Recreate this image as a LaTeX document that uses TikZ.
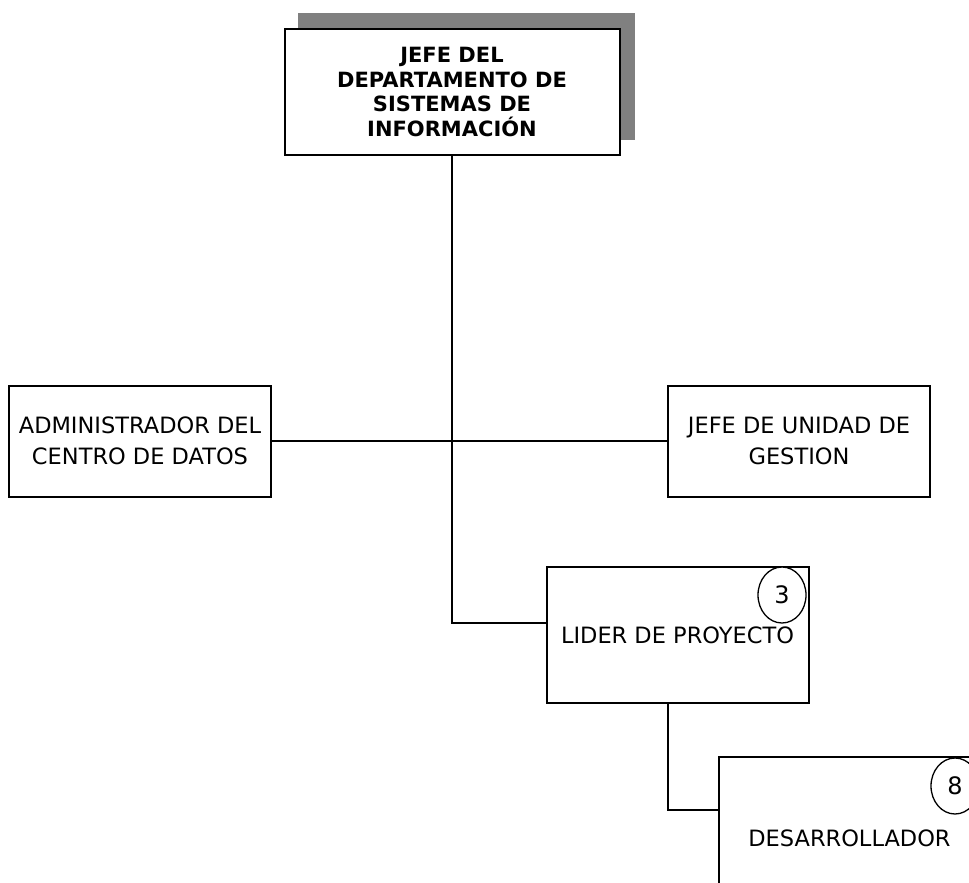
\documentclass[tikz,border=0pt]{standalone}
\usepackage{fontspec}
\setmainfont{DejaVu Sans}
\usetikzlibrary{shapes.geometric}
\definecolor{shadowgray}{RGB}{128,128,128}
\tikzset{
  orgbox/.style={draw=black, line width=2pt, fill=white, minimum width=262pt,
    inner sep=0pt, align=center, font=\fontsize{22.5}{30.5}\selectfont},
  headbox/.style={orgbox, minimum width=335pt, minimum height=126pt,
    font=\fontsize{21}{24.8}\selectfont\bfseries},
  link/.style={draw=black, line width=1.4pt},
  countmark/.style={ellipse, draw=black, line width=1.3pt, fill=white,
    minimum width=48pt, minimum height=56pt, inner sep=0pt,
    font=\fontsize{24}{26}\selectfont}
}
\begin{document}
\begin{tikzpicture}[x=1pt, y=-1pt]
  \useasboundingbox (0,0) rectangle (969,883);
  \clip (0,0) rectangle (969,883);

  % drop shadow behind the head box
  \fill[shadowgray] (298,13) rectangle (635,140);

  \node[headbox] (jefe) at (452,92) {JEFE DEL\\DEPARTAMENTO DE\\SISTEMAS DE\\INFORMACIÓN};

  \node[orgbox, minimum height=111pt] (adm) at (140,441) {ADMINISTRADOR DEL\\CENTRO DE DATOS};
  \node[orgbox, minimum height=111pt] (gest) at (799,441) {JEFE DE UNIDAD DE\\GESTION};

  \node[orgbox, minimum height=136pt] (lider) at (677.5,635) {LIDER DE PROYECTO};
  \node[orgbox, minimum height=162pt] (dev) at (849.5,838) {DESARROLLADOR};

  \node[countmark] (n3) at (782,595) {3};
  \node[countmark] (n8) at (955,786) {8};

  % branch points of the connectors
  \coordinate (liderjoin) at (0,623);
  \coordinate (devdrop) at (668,0);
  \coordinate (devjoin) at (0,810);

  \draw[link] (adm.east) -- (gest.west);
  \draw[link] (jefe.south) |- (lider.west |- liderjoin);
  \draw[link] (lider.south -| devdrop) |- (dev.west |- devjoin);
\end{tikzpicture}
\end{document}
